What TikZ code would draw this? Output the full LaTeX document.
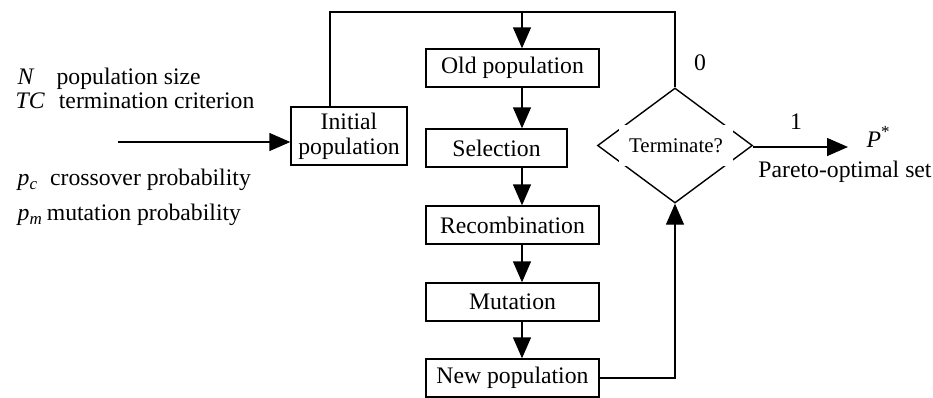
\documentclass[tikz,border=0pt]{standalone}
\usepackage{fontspec}
\setmainfont{Liberation Serif}
\usepackage{tikz}
\usetikzlibrary{positioning,arrows.meta,shapes.geometric}

\begin{document}
\begin{tikzpicture}[x=0.5pt,y=-0.5pt,line width=0.7pt,
  every node/.style={font=\fontsize{11.85}{13.5}\selectfont},
  stage/.style={draw,rectangle,minimum width=86.5pt,minimum height=19pt,inner sep=0pt},
  arr/.style={-{Triangle[length=10.5pt,width=9pt]}},
  param/.style={anchor=base west,inner sep=0pt}]
\useasboundingbox (0,0) rectangle (933,397);

\node[param] (pn) at (17,84) {\textit{N}\hspace{11pt}population size};
\node[param] (ptc) at (15,108) {\textit{TC}\hspace{7pt}termination criterion};
\node[param] (ppc) at (17,185) {\textit{p}\raisebox{-0.45ex}{\fontsize{8.5}{9}\selectfont\textit{c}}\hspace{6.5pt}crossover probability};
\node[param] (ppm) at (17,220) {\textit{p}\raisebox{-0.45ex}{\fontsize{8.5}{9}\selectfont\textit{m}}\hspace{2.5pt}mutation probability};

\node[draw,minimum width=58pt,minimum height=29pt,inner sep=0pt,align=center,
  font=\fontsize{11.85}{12.5}\selectfont] (init) at (349,136) {Initial\\population};
\node[stage] (old) at (512.5,68) {Old population};
\node[stage,minimum width=70.5pt] (sel) at (496.5,148) {Selection};
\node[stage] (rec) at (512.5,225) {Recombination};
\node[stage] (mut) at (512.5,302) {Mutation};
\node[stage] (new) at (512.5,378) {New population};

\node[draw,diamond,minimum width=77.5pt,minimum height=57.5pt,inner sep=0pt] (term) at (675,145.5) {};
\node[fill=white,minimum width=57pt,minimum height=20.5pt,inner sep=0pt,
  font=\fontsize{10.45}{12}\selectfont] (termtxt) at (676,145.5) {Terminate?};

\coordinate (inlead) at (118,142);
\coordinate (ltop) at (330,12);
\coordinate (otop) at (522,12);
\coordinate (rtop) at (675,12);
\coordinate (outend) at (848,147);

\draw[arr] (inlead) -- (inlead -| init.west);
\draw (ltop |- init.north) -- (ltop) -- (rtop) -- (term.north);
\draw[arr] (otop) -- (otop |- old.north);
\foreach \a/\b in {old/sel,sel/rec,rec/mut,mut/new}
  \draw[arr] (otop |- \a.south) -- (otop |- \b.north);
\draw[arr] (new.east) -- (new.east -| term.south) -- (term.south);
\draw[arr] (term.east |- outend) -- (outend);

\node (zero) at (700,63) {0};
\node (one) at (796,122) {1};
\node[anchor=base west,inner sep=0pt] (pstar) at (866,147) {\textit{P}\raisebox{0.9ex}{\fontsize{8.5}{9}\selectfont *}};
\node[anchor=base,inner sep=0pt] (pareto) at (845,177) {Pareto-optimal set};
\end{tikzpicture}
\end{document}
